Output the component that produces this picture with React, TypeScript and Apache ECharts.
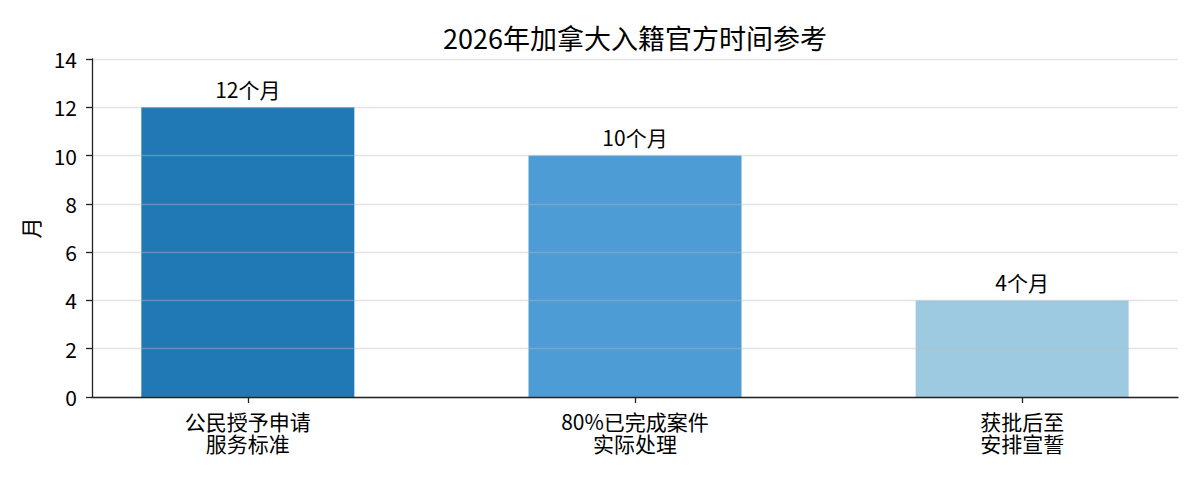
import React, { useEffect, useRef } from "react";
import * as echarts from "echarts";

const title = "2026年加拿大入籍官方时间参考";
const categories = ["公民授予申请\n服务标准", "80%已完成案件\n实际处理", "获批后至\n安排宣誓"];
const months = [12, 10, 4];
const barColors = ["#2079b4", "#4e9cd6", "#9ecae1"];
const yTicks = [0, 2, 4, 6, 8, 10, 12, 14];
const yAxisName = "月";
const unit = "个月";

const FONT = '"Noto Sans CJK SC", "Noto Sans", sans-serif';

export default function App() {
  const ref = useRef<HTMLDivElement>(null);
  useEffect(() => {
    if (!ref.current) return;
    const chart = echarts.init(ref.current, null, { renderer: "svg" });
    const positions = categories.map((_, i) => i);
    const lineOf = (v: number, k: number) => (categories[Math.round(v)] ?? "").split("\n")[k] ?? "";
    const baseX = {
      type: "value",
      min: -0.4025,
      max: 2.4025,
      position: "bottom",
      splitLine: { show: false },
    };
    chart.setOption({
      animation: false,
      backgroundColor: "#ffffff",
      textStyle: { fontFamily: FONT, color: "#000" },
      title: {
        text: title,
        left: 635,
        top: 24,
        textAlign: "center",
        padding: 0,
        textStyle: { fontFamily: FONT, fontSize: 27, fontWeight: "normal", color: "#000" },
      },
      grid: { left: 92, right: 22, top: 59, bottom: 83, containLabel: false },
      xAxis: [
        {
          ...baseX,
          z: 3,
          axisLine: { show: true, onZero: false, lineStyle: { color: "#222", width: 1.3 } },
          axisTick: { show: true, customValues: positions, length: 6, lineStyle: { color: "#222", width: 1.3 } },
          axisLabel: {
            customValues: positions,
            margin: 13,
            fontFamily: FONT,
            fontSize: 21,
            lineHeight: 22,
            color: "#000",
            formatter: (v: number) => lineOf(v, 0),
          },
        },
        {
          ...baseX,
          z: 3,
          axisLine: { show: false, onZero: false },
          axisTick: { show: false },
          axisLabel: {
            customValues: positions,
            margin: 35,
            fontFamily: FONT,
            fontSize: 21,
            lineHeight: 22,
            color: "#000",
            formatter: (v: number) => lineOf(v, 1),
          },
        },
      ],
      yAxis: {
        type: "value",
        min: yTicks[0],
        max: yTicks[yTicks.length - 1],
        interval: 2,
        z: 3,
        name: yAxisName,
        nameLocation: "middle",
        nameGap: 52,
        nameRotate: 90,
        nameTextStyle: { fontFamily: FONT, fontSize: 21, color: "#000" },
        axisLine: { show: true, onZero: false, lineStyle: { color: "#222", width: 1.3 } },
        axisTick: { show: true, length: 6, lineStyle: { color: "#222", width: 1.3 } },
        axisLabel: { margin: 15, fontFamily: FONT, fontSize: 21, color: "#000" },
        splitLine: { show: true, lineStyle: { color: "rgba(185,185,185,0.4)", width: 1.3 } },
      },
      series: [
        {
          type: "bar",
          xAxisIndex: 0,
          barWidth: 213,
          z: 2,
          data: months.map((m, i) => ({ value: [positions[i], m], itemStyle: { color: barColors[i] } })),
          label: {
            show: true,
            position: "top",
            distance: 8,
            fontFamily: FONT,
            fontSize: 21,
            color: "#000",
            formatter: (p: any) => `${months[p.dataIndex]}${unit}`,
          },
        },
      ],
    });
    return () => chart.dispose();
  }, []);
  return (
    <div
      ref={ref}
      style={{ position: "fixed", left: 0, top: 0, width: 1200, height: 480, background: "#fff" }}
    />
  );
}
